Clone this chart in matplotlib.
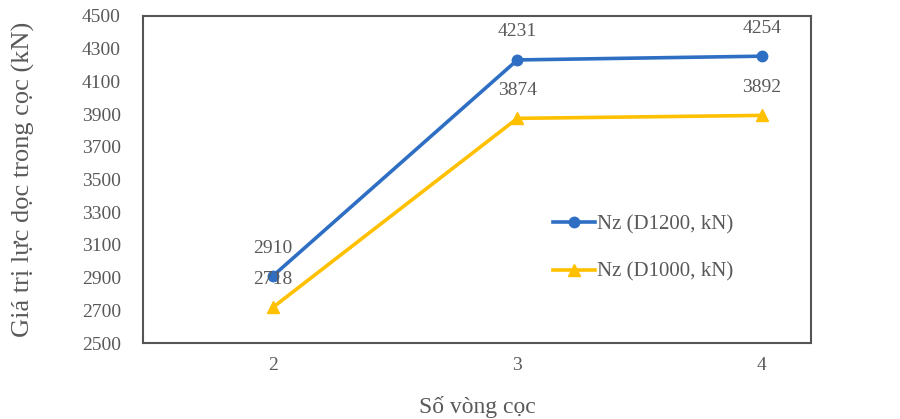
import matplotlib.pyplot as plt

plt.rcParams['font.family'] = ['Liberation Serif', 'DejaVu Serif']

so_vong = [2, 3, 4]
nz_d1200 = [2910, 4231, 4254]
nz_d1000 = [2718, 3874, 3892]
y_ticks = list(range(2500, 4501, 200))

fig = plt.figure(figsize=(9, 4.19), dpi=100)
ax = fig.add_axes([0.159, 0.181, 0.742, 0.781])

ax.plot(so_vong, nz_d1200, color='#2e6fc4', lw=2.6, marker='o', ms=7.5, label='Nz (D1200, kN)')
ax.plot(so_vong, nz_d1000, color='#ffc000', lw=2.6, marker='^', ms=8.5, label='Nz (D1000, kN)')

for x, y in zip(so_vong, nz_d1200):
    ax.annotate(str(y), (x, y), xytext=(0, 14), textcoords='offset points',
                ha='center', va='bottom', fontsize=14, color='#595959')
for x, y in zip(so_vong, nz_d1000):
    ax.annotate(str(y), (x, y), xytext=(0, 14), textcoords='offset points',
                ha='center', va='bottom', fontsize=14, color='#595959')

ax.set_xlim(1.47, 4.2)
ax.set_ylim(2500, 4500)
ax.set_xticks(so_vong)
ax.set_yticks(y_ticks)
ax.tick_params(length=0, labelsize=14, labelcolor='#595959')
ax.tick_params(axis='y', pad=16)
ax.tick_params(axis='x', pad=10)
for s in ax.spines.values():
    s.set_color('#555555')
    s.set_linewidth(1.5)

ax.set_xlabel('Số vòng cọc', fontsize=17, color='#595959', labelpad=16)
ax.set_ylabel('Giá trị lực dọc trong cọc (kN)', fontsize=19, color='#595959')
ax.yaxis.set_label_coords(-0.162, 0.5)

ax.legend(loc='center left', bbox_to_anchor=(0.614, 0.29), frameon=False, fontsize=15,
          borderpad=0, borderaxespad=0, handlelength=2.0, handletextpad=0.1,
          labelspacing=1.35, labelcolor='#595959')

fig.savefig('out.png', dpi=100)
